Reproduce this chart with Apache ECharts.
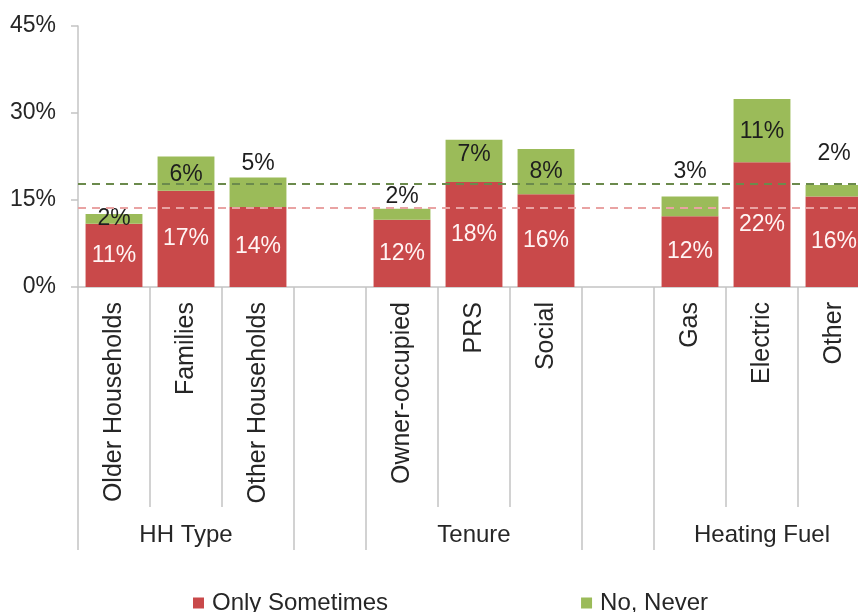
<!DOCTYPE html>
<html>
<head>
<meta charset="utf-8">
<script src="https://cdn.jsdelivr.net/npm/echarts@6/dist/echarts.min.js"></script>
<style>
html,body{margin:0;padding:0;background:#fff;}
#chart{width:858px;height:612px;}
</style>
</head>
<body>
<div id="chart"></div>
<script>
// ---- data ----
var categories = ['Older Households','Families','Other Households','','Owner-occupied','PRS','Social','','Gas','Electric','Other'];
var groupLabels = ['','HH Type','','','','Tenure','','','','Heating Fuel',''];
var onlySometimes = [10.9, 16.6, 13.8, null, 11.6, 18.1, 16.0, null, 12.2, 21.5, 15.6];
var noNever = [1.7, 5.9, 5.1, null, 1.9, 7.3, 7.8, null, 3.4, 10.9, 2.0];
var avgOnlySometimes = 13.6;
var avgNoNever = 17.8;
var yTicks = [0, 15, 30, 45];

// ---- layout of the green labels (vertical offset in px) ----
var greenLabelOffsets = [0, 1, -29, 0, -18, -6, 0, 0, -35, 1, -37];

var FONT = "'Liberation Sans', Arial, sans-serif";
var RED = '#c9494a';
var GREEN = '#9bbb59';

var chart = echarts.init(document.getElementById('chart'));

var redData = onlySometimes.map(function (v) { return v; });
var greenData = noNever.map(function (v, i) {
  if (v === null) return null;
  return { value: v, label: { offset: [0, greenLabelOffsets[i]] } };
});

var option = {
  animation: false,
  backgroundColor: '#fff',
  textStyle: { fontFamily: FONT },
  grid: { left: 78, top: 26, width: 792, bottom: 325, containLabel: false, outerBoundsMode: 'none' },
  legend: {
    left: 188,
    top: 586,
    itemWidth: 11,
    itemHeight: 11,
    itemGap: 193,
    icon: 'rect',
    textStyle: { fontFamily: FONT, fontSize: 24, color: '#262626', padding: [0, 0, 0, 3] },
    data: ['Only Sometimes', 'No, Never']
  },
  xAxis: [
    {
      type: 'category',
      data: categories,
      position: 'bottom',
      axisLine: { show: true, lineStyle: { color: '#c4c4c4', width: 1.5 } },
      axisTick: { show: true, interval: 0, length: 220, lineStyle: { color: '#c4c4c4', width: 1.5 } },
      axisLabel: {
        interval: 0, rotate: 90, margin: 15,
        fontFamily: FONT, fontSize: 25, color: '#262626'
      }
    },
    {
      type: 'category',
      data: groupLabels,
      position: 'bottom',
      axisLine: { show: false },
      axisTick: {
        show: true, length: 263,
        interval: function (index) { return index === 0 || index === 3 || index === 4 || index === 7 || index === 8; },
        lineStyle: { color: '#c4c4c4', width: 1.5 }
      },
      axisLabel: {
        interval: 0, margin: 236,
        fontFamily: FONT, fontSize: 24, color: '#262626'
      }
    }
  ],
  yAxis: {
    type: 'value',
    min: yTicks[0],
    max: yTicks[yTicks.length - 1],
    interval: 15,
    axisLine: { show: true, lineStyle: { color: '#c4c4c4', width: 1.5 } },
    axisTick: { show: true, length: 7, lineStyle: { color: '#c4c4c4', width: 1.5 } },
    splitLine: { show: false },
    axisLabel: {
      margin: 22,
      fontFamily: FONT, fontSize: 23, color: '#262626',
      formatter: '{value}%'
    }
  },
  series: [
    {
      name: 'Only Sometimes',
      type: 'bar',
      stack: 'total',
      barCategoryGap: '21%',
      data: redData,
      itemStyle: { color: RED },
      label: {
        show: true, position: 'inside',
        fontFamily: FONT, fontSize: 23, color: '#fff4f4',
        formatter: function (p) { return Math.round(p.value) + '%'; }
      }
    },
    {
      name: 'No, Never',
      type: 'bar',
      stack: 'total',
      barCategoryGap: '21%',
      data: greenData,
      itemStyle: { color: GREEN },
      label: {
        show: true, position: 'inside',
        fontFamily: FONT, fontSize: 23, color: '#1e1e1e',
        formatter: function (p) { return Math.round(p.value) + '%'; }
      },
      markLine: {
        silent: true,
        symbol: 'none',
        label: { show: false },
        z: 10,
        data: [
          { yAxis: avgNoNever, lineStyle: { color: '#6b8a4c', type: [8, 6], width: 2 } },
          { yAxis: avgOnlySometimes, lineStyle: { color: '#e9a3a3', type: [8, 6], width: 2 } }
        ]
      }
    }
  ]
};

chart.setOption(option);
</script>
</body>
</html>
